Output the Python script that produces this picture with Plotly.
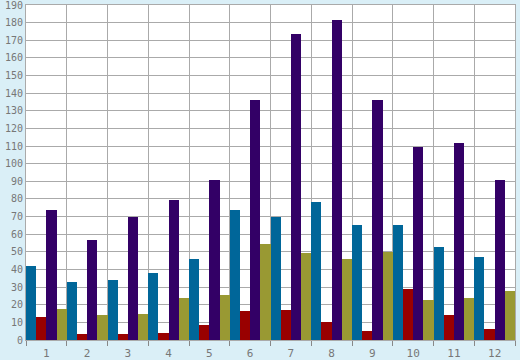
import plotly.graph_objects as go

categories = [1, 2, 3, 4, 5, 6, 7, 8, 9, 10, 11, 12]
tick_labels = [str(c) for c in categories]
y_ticks = list(range(0, 200, 10))
series_blue = [42, 33, 34, 38, 46, 74, 70, 78, 65, 65, 52.8, 47]
series_red = [13, 3.5, 3.5, 4, 8.5, 16.4, 17, 10.2, 5.1, 29, 14.2, 6.2]
series_purple = [74, 57, 70, 79.5, 91, 136, 173.6, 181.5, 136, 109.5, 111.7, 90.8]
series_olive = [17.5, 14, 15, 24, 25.5, 54.4, 49.3, 46, 50, 22.7, 23.8, 27.8]

colors = ["#006699", "#990000", "#330066", "#999933"]
series = [series_blue, series_red, series_purple, series_olive]

fig = go.Figure()
for vals, col in zip(series, colors):
    fig.add_trace(go.Bar(x=categories, y=vals, marker=dict(color=col, line=dict(width=0)),
                         showlegend=False))

grid = "#AAAAAA"
font = dict(family="DejaVu Sans Mono", size=11, color="#777777")
fig.update_layout(
    width=520, height=360,
    margin=dict(l=26, r=5, t=5, b=20, autoexpand=False),
    paper_bgcolor="#DAEFF7", plot_bgcolor="#FFFFFF",
    barmode="group", bargap=0, bargroupgap=0,
    font=font,
)
fig.update_xaxes(
    range=[0.5, 12.5], tickmode="array", tickvals=categories, ticktext=tick_labels,
    showgrid=False, ticks="", showline=True, linecolor=grid, linewidth=1, mirror=True,
    zeroline=False, tickfont=font, automargin=False, ticklabelstandoff=3,
    ticklabeloverflow="allow",
    minor=dict(tick0=0.5, dtick=1, showgrid=True, gridcolor=grid, gridwidth=1,
               ticks="outside", ticklen=5, tickcolor="#888888"),
)
fig.update_yaxes(
    range=[0, 190], tickmode="array", tickvals=y_ticks, showgrid=True, gridcolor=grid, gridwidth=1,
    showline=True, linecolor=grid, linewidth=1, mirror=True, zeroline=False,
    ticks="", tickfont=dict(family="DejaVu Sans Mono", size=10, color="#777777"),
    automargin=False, ticklabelstandoff=0, ticklabeloverflow="allow",
)
fig.write_html("out.html", config={"displayModeBar": False},
               post_script="document.body.style.margin='0';")
